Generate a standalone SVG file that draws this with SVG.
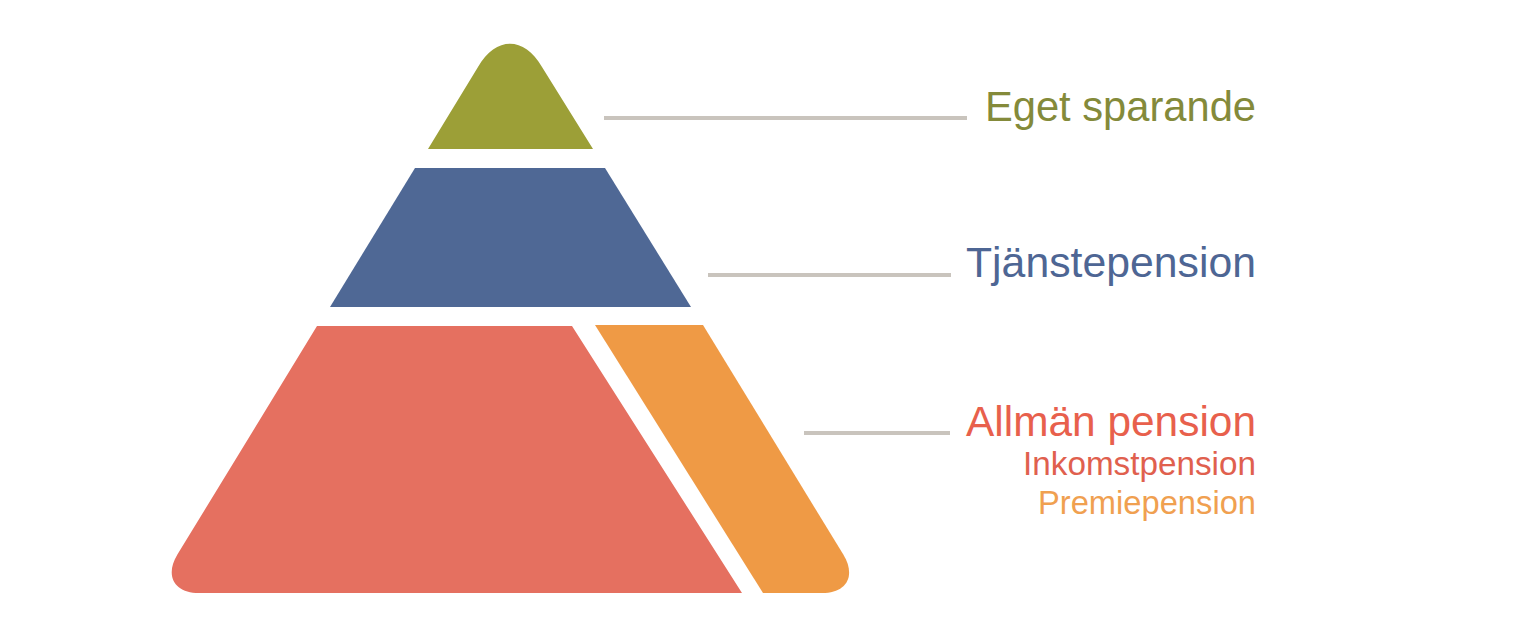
<svg xmlns="http://www.w3.org/2000/svg" width="1536" height="619" viewBox="0 0 1536 619">
<style>
.lbl{font-family:"Liberation Sans",Arial,sans-serif;text-anchor:end}
.big{font-size:42px}
.small{font-size:33px}
.conn{stroke:#c9c4bd;stroke-width:4;fill:none}
</style>
<rect width="1536" height="619" fill="#ffffff"/>
<g id="eget">
<path d="M428,149 L478,67 C496,36 524,36 542,67 L593,149 Z" fill="#9c9f37"/>
<text class="lbl big" x="1256" y="121" fill="#848a3a" textLength="271" lengthAdjust="spacingAndGlyphs">Eget sparande</text>
</g>
<g id="tjanste">
<path d="M415,168 L605,168 L691,307 L330,307 Z" fill="#4f6895"/>
<text class="lbl big" x="1256" y="277" fill="#4e6694" textLength="290" lengthAdjust="spacingAndGlyphs">Tjänstepension</text>
</g>
<g id="allman">
<path d="M317,326 L572,326 L742,593 L199,593 C174.3,593 164.5,575.7 177.4,554.6 Z" fill="#e57060"/>
<text class="lbl big" x="1256" y="436" fill="#e8604c" textLength="290" lengthAdjust="spacingAndGlyphs">Allmän pension</text>
<text class="lbl small" x="1256" y="475" fill="#e0604e" textLength="233" lengthAdjust="spacingAndGlyphs">Inkomstpension</text>
</g>
<g id="premie">
<path d="M595,325 L703,325 L843.3,554.6 C856.3,575.9 846.8,593 822,593 L763,593 Z" fill="#ef9a45"/>
<text class="lbl small" x="1256" y="514" fill="#f0a050" textLength="218" lengthAdjust="spacingAndGlyphs">Premiepension</text>
</g>
<g id="connectors">
<line class="conn" x1="604" y1="118" x2="967" y2="118"/>
<line class="conn" x1="708" y1="275" x2="951" y2="275"/>
<line class="conn" x1="804" y1="433" x2="950" y2="433"/>
</g>
</svg>
